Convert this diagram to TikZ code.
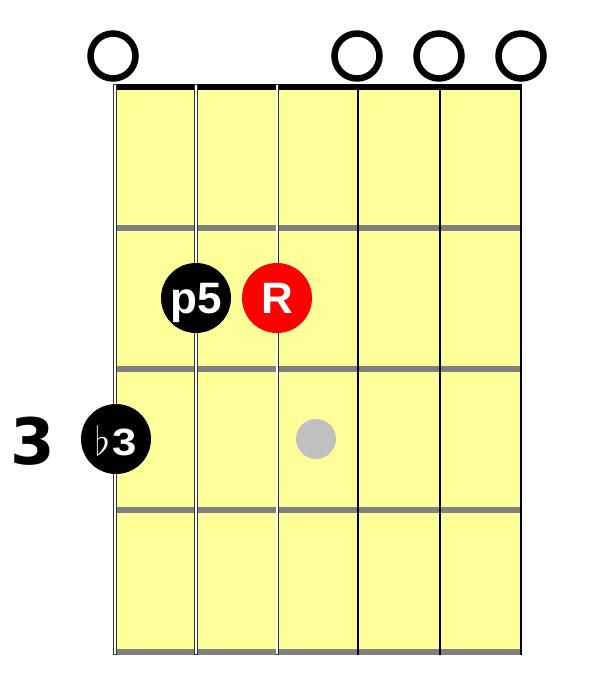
\documentclass[tikz,border=0pt]{standalone}
\usepackage{graphicx}
\usepackage{fontspec}
\newfontfamily\notefont{Liberation Sans}
\newfontfamily\fretfont{DejaVu Sans}
\definecolor{board}{HTML}{FFFF99}
\definecolor{fretgray}{HTML}{808080}
\definecolor{ghostgray}{HTML}{C0C0C0}
\begin{document}
\begin{tikzpicture}[x=1pt,y=-1pt,
    fret/.style={fretgray,line width=5.5pt},
    plain string/.style={black,line width=1.2pt},
    note/.style={circle,fill=black,minimum size=70pt,inner sep=0pt,
        text=white,text depth=0pt,
        font=\notefont\bfseries\fontsize{44}{44}\selectfont},
    small note/.style={note,
        font=\notefont\bfseries\fontsize{38}{38}\selectfont},
    open string/.style={circle,draw=black,line width=6.5pt,
        minimum size=45pt,inner sep=0pt}]
    \useasboundingbox (0,0) rectangle (594,700);
    % board and frets
    \fill[board] (117,90) rectangle (521,649);
    \foreach \y in {228,369,510,652}
        \draw[fret] (117,\y) -- (521,\y);
    \draw[black,line width=6pt] (115,87) -- (521,87);
    % wound strings
    \foreach \x/\w in {115/4.5,196/3.6,277/3.0} {
        \draw[black!80,line width=\w pt] (\x,84) -- (\x,655);
        \draw[white,line width=\w pt-1.8pt] (\x,84.9) -- (\x,654.1);
    }
    % plain strings
    \foreach \x in {358,440,521}
        \draw[plain string] (\x,84) -- (\x,655);
    % open strings
    \node[open string] (open1) at (113,56) {};
    \node[open string] (open4) at (357,56) {};
    \node[open string] (open5) at (439,56) {};
    \node[open string] (open6) at (521,56) {};
    % notes
    \node[note,text height=31.5pt] (fifth) at (196,298) {p5};
    \node[note,fill=red,text height=31.5pt] (root) at (277,298) {R};
    \node[small note,text height=32pt]
          (third) at (116,439) {\scalebox{1.6}{$\flat$}\kern3pt\scalebox{1.15}[1]{3}};
    \node[circle,fill=ghostgray,minimum size=40pt,inner sep=0pt]
          (ghost) at (316,439) {};
    \node[font=\fretfont\bfseries\fontsize{64}{64}\selectfont,
          text height=46.5pt,text depth=0pt,inner sep=0pt]
          (fretnum) at (33,441.5) {3};
\end{tikzpicture}
\end{document}
